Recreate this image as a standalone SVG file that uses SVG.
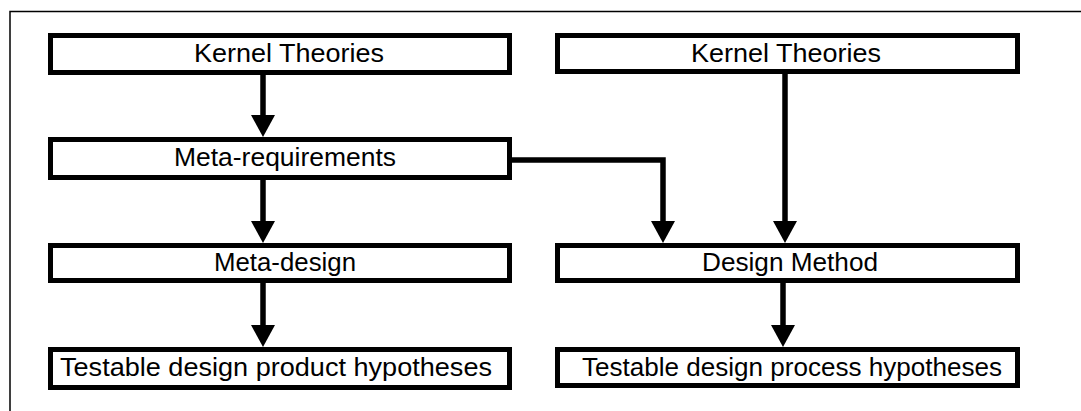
<svg xmlns="http://www.w3.org/2000/svg" width="1081" height="411" viewBox="0 0 1081 411">
  <style>
    .box { fill: #ffffff; stroke: #000000; stroke-width: 5; }
    .label { font-family: "Liberation Sans", Arial, sans-serif; font-size: 25px; fill: #000000; text-anchor: middle; }
    .wire { fill: none; stroke: #000000; stroke-width: 5.5; stroke-linejoin: miter; }
    .frame { fill: none; stroke: #000000; stroke-width: 1.5; }
  </style>
  <defs>
    <!-- tip sits 12px beyond the end of the line so the shaft stays hidden under the head -->
    <marker id="head" markerUnits="userSpaceOnUse" markerWidth="24" markerHeight="24" viewBox="0 0 24 24" refX="10" refY="12" orient="auto">
      <path d="M0,0 L22,12 L0,24 Z" fill="#000000"/>
    </marker>
  </defs>
  <rect width="1081" height="411" fill="#ffffff"/>

  <!-- surrounding frame (top and left edges) -->
  <path class="frame" d="M10,411 L10,11.5 L1081,11.5"/>

  <!-- connectors -->
  <g id="connectors">
    <path class="wire" d="M263,75 L263,125" marker-end="url(#head)"/>
    <path class="wire" d="M263,180 L263,231" marker-end="url(#head)"/>
    <path class="wire" d="M263,283 L263,335" marker-end="url(#head)"/>
    <path class="wire" d="M512,160 L663,160 L663,231" marker-end="url(#head)"/>
    <path class="wire" d="M785,74 L785,231" marker-end="url(#head)"/>
    <path class="wire" d="M783,283 L783,335" marker-end="url(#head)"/>
  </g>

  <!-- left column -->
  <g id="kernel-theories-left">
    <rect class="box" x="50.5" y="35.5" width="459" height="37"/>
    <text class="label" x="289" y="62" textLength="190" lengthAdjust="spacingAndGlyphs">Kernel Theories</text>
  </g>
  <g id="meta-requirements">
    <rect class="box" x="50.5" y="139.5" width="459" height="38"/>
    <text class="label" x="285" y="166" textLength="222" lengthAdjust="spacingAndGlyphs">Meta-requirements</text>
  </g>
  <g id="meta-design">
    <rect class="box" x="50.5" y="245.5" width="459" height="35"/>
    <text class="label" x="285" y="271" textLength="142" lengthAdjust="spacingAndGlyphs">Meta-design</text>
  </g>
  <g id="product-hypotheses">
    <rect class="box" x="50.5" y="349.5" width="459" height="38"/>
    <text class="label" x="276" y="376" textLength="432" lengthAdjust="spacingAndGlyphs">Testable design product hypotheses</text>
  </g>

  <!-- right column -->
  <g id="kernel-theories-right">
    <rect class="box" x="557.5" y="35.5" width="460" height="36"/>
    <text class="label" x="786" y="62" textLength="190" lengthAdjust="spacingAndGlyphs">Kernel Theories</text>
  </g>
  <g id="design-method">
    <rect class="box" x="557.5" y="245.5" width="460" height="35"/>
    <text class="label" x="790" y="271" textLength="176" lengthAdjust="spacingAndGlyphs">Design Method</text>
  </g>
  <g id="process-hypotheses">
    <rect class="box" x="557.5" y="349.5" width="460" height="36"/>
    <text class="label" x="792" y="376" textLength="420" lengthAdjust="spacingAndGlyphs">Testable design process hypotheses</text>
  </g>
</svg>
